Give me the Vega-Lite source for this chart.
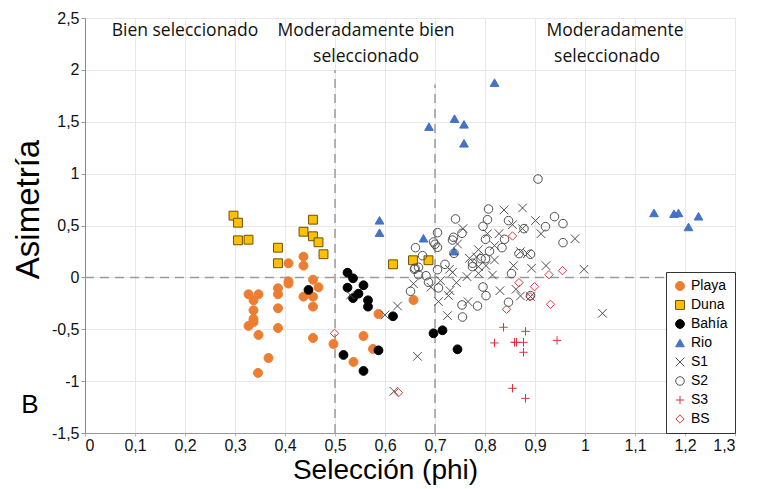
{
  "$schema": "https://vega.github.io/schema/vega-lite/v6.json",
  "width": 650,
  "height": 415,
  "autosize": {"type": "none"},
  "padding": {"left": 85, "top": 18, "right": 29, "bottom": 56},
  "background": "white",
  "config": {
    "view": {"stroke": "#c4c4c4", "strokeWidth": 1},
    "font": "Liberation Sans"
  },
  "datasets": {
    "pts": [
      {"grupo":"Playa","phi":0.407,"asim":0.136},{"grupo":"Playa","phi":0.437,"asim":0.2},{"grupo":"Playa","phi":0.437,"asim":0.113},{"grupo":"Playa","phi":0.407,"asim":-0.038},{"grupo":"Playa","phi":0.407,"asim":-0.06},{"grupo":"Playa","phi":0.456,"asim":-0.022},{"grupo":"Playa","phi":0.467,"asim":-0.095},{"grupo":"Playa","phi":0.386,"asim":-0.105},{"grupo":"Playa","phi":0.386,"asim":-0.163},{"grupo":"Playa","phi":0.437,"asim":-0.186},{"grupo":"Playa","phi":0.456,"asim":-0.186},{"grupo":"Playa","phi":0.456,"asim":-0.282},{"grupo":"Playa","phi":0.327,"asim":-0.163},{"grupo":"Playa","phi":0.337,"asim":-0.221},{"grupo":"Playa","phi":0.347,"asim":-0.163},{"grupo":"Playa","phi":0.337,"asim":-0.317},{"grupo":"Playa","phi":0.386,"asim":-0.298},{"grupo":"Playa","phi":0.337,"asim":-0.401},{"grupo":"Playa","phi":0.337,"asim":-0.43},{"grupo":"Playa","phi":0.327,"asim":-0.468},{"grupo":"Playa","phi":0.386,"asim":-0.488},{"grupo":"Playa","phi":0.347,"asim":-0.555},{"grupo":"Playa","phi":0.456,"asim":-0.584},{"grupo":"Playa","phi":0.497,"asim":-0.642},{"grupo":"Playa","phi":0.367,"asim":-0.777},{"grupo":"Playa","phi":0.346,"asim":-0.921},{"grupo":"Playa","phi":0.587,"asim":-0.353},{"grupo":"Playa","phi":0.557,"asim":-0.565},{"grupo":"Playa","phi":0.576,"asim":-0.69},{"grupo":"Playa","phi":0.537,"asim":-0.815},{"grupo":"Playa","phi":0.657,"asim":-0.218},
      {"grupo":"Duna","phi":0.297,"asim":0.595},{"grupo":"Duna","phi":0.306,"asim":0.527},{"grupo":"Duna","phi":0.306,"asim":0.357},{"grupo":"Duna","phi":0.327,"asim":0.363},{"grupo":"Duna","phi":0.386,"asim":0.286},{"grupo":"Duna","phi":0.386,"asim":0.136},{"grupo":"Duna","phi":0.437,"asim":0.44},{"grupo":"Duna","phi":0.456,"asim":0.556},{"grupo":"Duna","phi":0.456,"asim":0.396},{"grupo":"Duna","phi":0.467,"asim":0.338},{"grupo":"Duna","phi":0.477,"asim":0.223},{"grupo":"Duna","phi":0.616,"asim":0.126},{"grupo":"Duna","phi":0.656,"asim":0.165},{"grupo":"Duna","phi":0.687,"asim":0.165},
      {"grupo":"Bahía","phi":0.525,"asim":0.045},{"grupo":"Bahía","phi":0.536,"asim":-0.009},{"grupo":"Bahía","phi":0.525,"asim":-0.099},{"grupo":"Bahía","phi":0.557,"asim":-0.076},{"grupo":"Bahía","phi":0.547,"asim":-0.157},{"grupo":"Bahía","phi":0.536,"asim":-0.2},{"grupo":"Bahía","phi":0.447,"asim":-0.121},{"grupo":"Bahía","phi":0.566,"asim":-0.221},{"grupo":"Bahía","phi":0.566,"asim":-0.282},{"grupo":"Bahía","phi":0.616,"asim":-0.375},{"grupo":"Bahía","phi":0.517,"asim":-0.748},{"grupo":"Bahía","phi":0.587,"asim":-0.703},{"grupo":"Bahía","phi":0.557,"asim":-0.902},{"grupo":"Bahía","phi":0.697,"asim":-0.539},{"grupo":"Bahía","phi":0.715,"asim":-0.51},{"grupo":"Bahía","phi":0.745,"asim":-0.693},
      {"grupo":"Rio","phi":0.589,"asim":0.55},{"grupo":"Rio","phi":0.589,"asim":0.431},{"grupo":"Rio","phi":0.688,"asim":1.453},{"grupo":"Rio","phi":0.739,"asim":1.53},{"grupo":"Rio","phi":0.758,"asim":1.475},{"grupo":"Rio","phi":0.758,"asim":1.292},{"grupo":"Rio","phi":0.819,"asim":1.877},{"grupo":"Rio","phi":0.677,"asim":0.377},{"grupo":"Rio","phi":0.738,"asim":0.252},{"grupo":"Rio","phi":1.138,"asim":0.621},{"grupo":"Rio","phi":1.178,"asim":0.614},{"grupo":"Rio","phi":1.187,"asim":0.621},{"grupo":"Rio","phi":1.227,"asim":0.589},{"grupo":"Rio","phi":1.207,"asim":0.486},
      {"grupo":"S1","phi":0.838,"asim":0.65},{"grupo":"S1","phi":0.875,"asim":0.669},{"grupo":"S1","phi":0.901,"asim":0.547},{"grupo":"S1","phi":0.855,"asim":0.508},{"grupo":"S1","phi":0.875,"asim":0.47},{"grupo":"S1","phi":0.756,"asim":0.47},{"grupo":"S1","phi":0.805,"asim":0.421},{"grupo":"S1","phi":0.828,"asim":0.421},{"grupo":"S1","phi":0.912,"asim":0.421},{"grupo":"S1","phi":0.98,"asim":0.373},{"grupo":"S1","phi":0.745,"asim":0.322},{"grupo":"S1","phi":0.819,"asim":0.306},{"grupo":"S1","phi":0.787,"asim":0.267},{"grupo":"S1","phi":0.871,"asim":0.248},{"grupo":"S1","phi":0.885,"asim":0.229},{"grupo":"S1","phi":0.769,"asim":0.184},{"grupo":"S1","phi":0.783,"asim":0.197},{"grupo":"S1","phi":0.819,"asim":0.168},{"grupo":"S1","phi":0.787,"asim":0.103},{"grupo":"S1","phi":0.802,"asim":0.113},{"grupo":"S1","phi":0.857,"asim":0.113},{"grupo":"S1","phi":0.893,"asim":0.088},{"grupo":"S1","phi":0.922,"asim":0.113},{"grupo":"S1","phi":0.998,"asim":0.078},{"grupo":"S1","phi":0.729,"asim":0.078},{"grupo":"S1","phi":0.735,"asim":0.049},{"grupo":"S1","phi":0.787,"asim":0.039},{"grupo":"S1","phi":0.815,"asim":0.023},{"grupo":"S1","phi":0.764,"asim":0.007},{"grupo":"S1","phi":0.711,"asim":-0.032},{"grupo":"S1","phi":0.743,"asim":-0.051},{"grupo":"S1","phi":0.657,"asim":-0.061},{"grupo":"S1","phi":0.692,"asim":-0.095},{"grupo":"S1","phi":0.73,"asim":-0.128},{"grupo":"S1","phi":0.727,"asim":-0.176},{"grupo":"S1","phi":0.83,"asim":-0.128},{"grupo":"S1","phi":0.862,"asim":-0.115},{"grupo":"S1","phi":0.871,"asim":-0.179},{"grupo":"S1","phi":0.891,"asim":-0.186},{"grupo":"S1","phi":0.707,"asim":-0.234},{"grupo":"S1","phi":0.766,"asim":-0.234},{"grupo":"S1","phi":0.725,"asim":-0.369},{"grupo":"S1","phi":0.625,"asim":-0.276},{"grupo":"S1","phi":0.6,"asim":-0.362},{"grupo":"S1","phi":1.035,"asim":-0.346},{"grupo":"S1","phi":0.665,"asim":-0.761},{"grupo":"S1","phi":0.618,"asim":-1.098},{"grupo":"S1","phi":0.531,"asim":-0.17},
      {"grupo":"S2","phi":0.906,"asim":0.948},{"grupo":"S2","phi":0.807,"asim":0.659},{"grupo":"S2","phi":0.741,"asim":0.563},{"grupo":"S2","phi":0.805,"asim":0.556},{"grupo":"S2","phi":0.847,"asim":0.547},{"grupo":"S2","phi":0.939,"asim":0.585},{"grupo":"S2","phi":0.956,"asim":0.518},{"grupo":"S2","phi":0.796,"asim":0.492},{"grupo":"S2","phi":0.921,"asim":0.489},{"grupo":"S2","phi":0.878,"asim":0.47},{"grupo":"S2","phi":0.705,"asim":0.431},{"grupo":"S2","phi":0.754,"asim":0.425},{"grupo":"S2","phi":0.737,"asim":0.386},{"grupo":"S2","phi":0.735,"asim":0.36},{"grupo":"S2","phi":0.697,"asim":0.341},{"grupo":"S2","phi":0.7,"asim":0.319},{"grupo":"S2","phi":0.705,"asim":0.29},{"grupo":"S2","phi":0.801,"asim":0.367},{"grupo":"S2","phi":0.809,"asim":0.252},{"grupo":"S2","phi":0.839,"asim":0.367},{"grupo":"S2","phi":0.834,"asim":0.286},{"grupo":"S2","phi":0.956,"asim":0.335},{"grupo":"S2","phi":0.661,"asim":0.286},{"grupo":"S2","phi":0.675,"asim":0.209},{"grupo":"S2","phi":0.738,"asim":0.232},{"grupo":"S2","phi":0.72,"asim":0.126},{"grupo":"S2","phi":0.775,"asim":0.136},{"grupo":"S2","phi":0.775,"asim":0.103},{"grupo":"S2","phi":0.792,"asim":0.18},{"grupo":"S2","phi":0.801,"asim":0.18},{"grupo":"S2","phi":0.66,"asim":0.088},{"grupo":"S2","phi":0.667,"asim":0.097},{"grupo":"S2","phi":0.667,"asim":0.026},{"grupo":"S2","phi":0.682,"asim":0.016},{"grupo":"S2","phi":0.705,"asim":0.074},{"grupo":"S2","phi":0.853,"asim":0.036},{"grupo":"S2","phi":0.891,"asim":0.223},{"grupo":"S2","phi":0.868,"asim":0.229},{"grupo":"S2","phi":0.687,"asim":-0.047},{"grupo":"S2","phi":0.707,"asim":-0.102},{"grupo":"S2","phi":0.651,"asim":-0.134},{"grupo":"S2","phi":0.796,"asim":-0.093},{"grupo":"S2","phi":0.802,"asim":-0.176},{"grupo":"S2","phi":0.754,"asim":-0.266},{"grupo":"S2","phi":0.785,"asim":-0.276},{"grupo":"S2","phi":0.755,"asim":-0.382},{"grupo":"S2","phi":0.847,"asim":-0.24},{"grupo":"S2","phi":0.891,"asim":-0.176},{"grupo":"S2","phi":0.659,"asim":0.078},
      {"grupo":"S3","phi":0.837,"asim":-0.481},{"grupo":"S3","phi":0.881,"asim":-0.52},{"grupo":"S3","phi":0.819,"asim":-0.632},{"grupo":"S3","phi":0.859,"asim":-0.626},{"grupo":"S3","phi":0.863,"asim":-0.626},{"grupo":"S3","phi":0.877,"asim":-0.626},{"grupo":"S3","phi":0.877,"asim":-0.722},{"grupo":"S3","phi":0.944,"asim":-0.607},{"grupo":"S3","phi":0.855,"asim":-1.069},{"grupo":"S3","phi":0.881,"asim":-1.166},
      {"grupo":"BS","phi":0.855,"asim":0.399},{"grupo":"BS","phi":0.928,"asim":0.026},{"grupo":"BS","phi":0.955,"asim":0.065},{"grupo":"BS","phi":0.868,"asim":-0.051},{"grupo":"BS","phi":0.899,"asim":-0.09},{"grupo":"BS","phi":0.89,"asim":-0.186},{"grupo":"BS","phi":0.931,"asim":-0.26},{"grupo":"BS","phi":0.843,"asim":-0.308},{"grupo":"BS","phi":0.627,"asim":-1.111},{"grupo":"BS","phi":0.499,"asim":-0.539}
    ]
  },
  "encoding": {
    "x": {
      "field": "phi", "type": "quantitative",
      "scale": {"domain": [0, 1.3], "nice": false, "zero": false},
      "axis": {
        "values": [0, 0.1, 0.2, 0.3, 0.4, 0.5, 0.6, 0.7, 0.8, 0.9, 1, 1.1, 1.2, 1.3],
        "labelExpr": "replace(format(datum.value, '~g'), '.', ',')",
        "title": "Selección (phi)",
        "titleFont": "Liberation Sans", "titleFontSize": 28, "titleFontWeight": "normal", "titleColor": "#000",
        "titlePadding": 3, "titleX": 300,
        "labelFont": "Liberation Sans", "labelFontSize": 16, "labelColor": "#111", "labelPadding": 1,
        "grid": true, "gridColor": "#e8e8e8",
        "domainColor": "#999", "tickColor": "#bbb", "tickSize": 3
      }
    },
    "y": {
      "field": "asim", "type": "quantitative",
      "scale": {"domain": [-1.5, 2.5], "nice": false, "zero": false},
      "axis": {
        "values": [-1.5, -1, -0.5, 0, 0.5, 1, 1.5, 2, 2.5],
        "labelExpr": "replace(replace(format(datum.value, '~g'), '.', ','), '\u2212', '-')",
        "title": "Asimetría",
        "titleFont": "Liberation Sans", "titleFontSize": 33, "titleFontWeight": "normal", "titleColor": "#000",
        "titlePadding": 6, "titleY": 191,
        "labelFont": "Liberation Sans", "labelFontSize": 16, "labelColor": "#111", "labelPadding": 2,
        "grid": true, "gridColor": "#e8e8e8",
        "domainColor": "#888", "tickColor": "#999", "tickSize": 4
      }
    }
  },
  "layer": [
    {
      "data": {"values": [{"phi": 0.5, "asim": -1.5, "asim2": 2.0}, {"phi": 0.7, "asim": -1.5, "asim2": 1.86}]},
      "mark": {"type": "rule", "color": "#9a9a9a", "strokeWidth": 1.5, "strokeDash": [9, 6]},
      "encoding": {
        "y2": {"field": "asim2"}
      }
    },
    {
      "data": {"values": [{"phi": 0, "phi2": 1.3, "asim": 0}]},
      "mark": {"type": "rule", "color": "#9a9a9a", "strokeWidth": 1.5, "strokeDash": [9, 6]},
      "encoding": {
        "x2": {"field": "phi2"}
      }
    },
    {
      "data": {"name": "pts"},
      "mark": {"type": "point", "filled": true, "strokeWidth": 1, "opacity": 1},
      "encoding": {
        "shape": {
          "field": "grupo", "type": "nominal",
          "scale": {
            "domain": ["Playa", "Duna", "Bahía", "Rio", "S1", "S2", "S3", "BS"],
            "range": ["circle", "square", "circle", "triangle-up", "M-1,-1L1,1M1,-1L-1,1", "circle", "M-1,0L1,0M0,-1L0,1", "diamond"]
          },
          "legend": {
            "title": null, "orient": "bottom-right", "offset": 0,
            "fillColor": "white", "strokeColor": "#333", "padding": 7,
            "labelFont": "Liberation Sans", "labelFontSize": 14, "labelColor": "#000",
            "rowPadding": 5, "symbolStrokeWidth": 1
          }
        },
        "fill": {
          "field": "grupo", "type": "nominal",
          "scale": {
            "domain": ["Playa", "Duna", "Bahía", "Rio", "S1", "S2", "S3", "BS"],
            "range": ["#ED7D31", "#FFC000", "#000000", "#4472C4", "transparent", "transparent", "transparent", "transparent"]
          },
          "legend": {"title": null, "orient": "bottom-right", "offset": 0}
        },
        "stroke": {
          "field": "grupo", "type": "nominal",
          "scale": {
            "domain": ["Playa", "Duna", "Bahía", "Rio", "S1", "S2", "S3", "BS"],
            "range": ["#ED7D31", "#6b5200", "#000000", "#4472C4", "#505050", "#505050", "#E03040", "#D83A3A"]
          },
          "legend": {"title": null, "orient": "bottom-right", "offset": 0}
        },
        "size": {
          "field": "grupo", "type": "nominal",
          "scale": {
            "domain": ["Playa", "Duna", "Bahía", "Rio", "S1", "S2", "S3", "BS"],
            "range": [80, 70, 80, 60, 36, 19, 45, 15]
          },
          "legend": {"title": null, "orient": "bottom-right", "offset": 0}
        }
      }
    },
    {
      "data": {"values": [
        {"phi": 0.2, "asim": 2.37, "txt": "Bien seleccionado"},
        {"phi": 0.562, "asim": 2.37, "txt": "Moderadamente bien"},
        {"phi": 0.562, "asim": 2.125, "txt": "seleccionado"},
        {"phi": 1.06, "asim": 2.37, "txt": "Moderadamente"},
        {"phi": 1.044, "asim": 2.125, "txt": "seleccionado"}
      ]},
      "mark": {"type": "text", "font": "Open Sans", "fontSize": 17.5, "color": "#111", "align": "center", "baseline": "middle"},
      "encoding": {
        "text": {"field": "txt"}
      }
    },
    {
      "data": {"values": [{"phi": -0.11, "asim": -1.23, "txt": "B"}]},
      "mark": {"type": "text", "font": "Liberation Sans", "fontSize": 26, "color": "#000", "align": "center", "baseline": "middle"},
      "encoding": {
        "text": {"field": "txt"}
      }
    }
  ]
}
